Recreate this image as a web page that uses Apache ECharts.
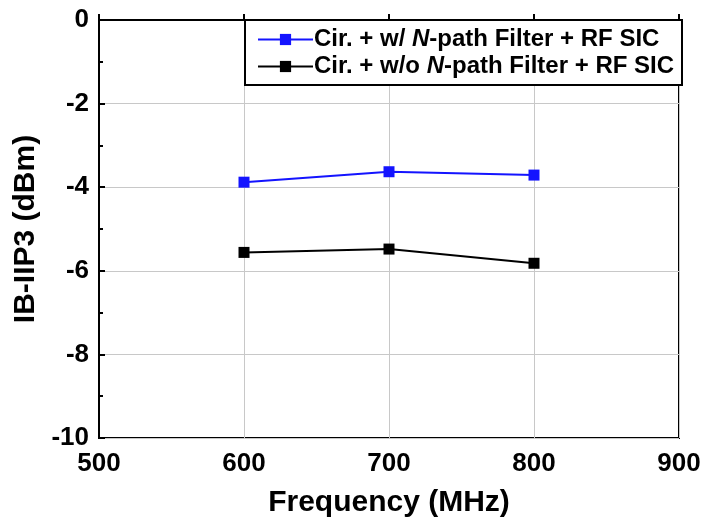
<!DOCTYPE html>
<html>
<head>
<meta charset="utf-8">
<script src="https://cdn.jsdelivr.net/npm/echarts@6/dist/echarts.min.js"></script>
<style>
  html, body { margin: 0; padding: 0; background: #fff; }
  #chart { width: 705px; height: 523px; }
</style>
</head>
<body>
<div id="chart"></div>
<script>
    // values
    var freqs = [600, 700, 800];
    var withFilter = [-3.88, -3.63, -3.71];
    var withoutFilter = [-5.56, -5.48, -5.82];
    var seriesNames = ['Cir. + w/ N-path Filter + RF SIC', 'Cir. + w/o N-path Filter + RF SIC'];

    var font = 'Liberation Sans, Arial, sans-serif';

    function pairs(ys) {
        var out = [];
        for (var i = 0; i < freqs.length; i++) {
            out.push([freqs[i], ys[i]]);
        }
        return out;
    }

    var chart = echarts.init(document.getElementById('chart'));

    var option = {
        animation: false,
        backgroundColor: '#fff',
        grid: {
            left: 99, right: 26, top: 20, bottom: 85,
            show: true, borderColor: '#000', borderWidth: 2
        },
        graphic: [{
            type: 'rect', z: 90,
            shape: { x: 245, y: 20, width: 437, height: 65 },
            style: { fill: '#fff', stroke: '#000', lineWidth: 2 }
        }],
        legend: {
            z: 100,
            orient: 'vertical',
            left: 257, top: 26,
            padding: 0,
            itemGap: 0,
            itemWidth: 55,
            itemHeight: 14,
            data: seriesNames,
            formatter: function (name) {
                return name.replace('N-path', '{i|N}-path');
            },
            textStyle: {
                fontFamily: font, fontWeight: 'bold', fontSize: 24,
                color: '#000', lineHeight: 27, padding: [0, 0, 0, -4],
                rich: {
                    i: { fontFamily: font, fontWeight: 'bold', fontStyle: 'italic', fontSize: 24, color: '#000' }
                }
            }
        },
        xAxis: {
            type: 'value', min: 500, max: 900, interval: 100,
            name: 'Frequency (MHz)', nameLocation: 'middle', nameGap: 50,
            nameTextStyle: { fontFamily: font, fontWeight: 'bold', fontSize: 30, color: '#000' },
            axisLine: { show: true, lineStyle: { color: '#000', width: 2 } },
            axisTick: { show: true, inside: true, length: 6, lineStyle: { color: '#000', width: 2 } },
            axisLabel: { fontFamily: font, fontWeight: 'bold', fontSize: 26, color: '#000', margin: 13 },
            splitLine: { show: true, lineStyle: { color: '#c8c8c8', width: 1 } }
        },
        yAxis: {
            type: 'value', min: -10, max: 0, interval: 2,
            name: 'IB-IIP3 (dBm)', nameLocation: 'middle', nameGap: 50,
            nameTextStyle: { fontFamily: font, fontWeight: 'bold', fontSize: 30, color: '#000' },
            axisLine: { show: true, lineStyle: { color: '#000', width: 2 } },
            axisTick: { show: true, inside: true, length: 6, lineStyle: { color: '#000', width: 2 } },
            minorTick: { show: true, splitNumber: 2, length: 4, lineStyle: { color: '#000', width: 2 } },
            axisLabel: { fontFamily: font, fontWeight: 'bold', fontSize: 26, color: '#000', margin: 10 },
            splitLine: { show: true, lineStyle: { color: '#c8c8c8', width: 1 } }
        },
        series: [{
            name: seriesNames[0],
            type: 'line',
            data: pairs(withFilter),
            symbol: 'rect', symbolSize: 11,
            itemStyle: { color: '#1414ff' },
            lineStyle: { color: '#1414ff', width: 2 }
        }, {
            name: seriesNames[1],
            type: 'line',
            data: pairs(withoutFilter),
            symbol: 'rect', symbolSize: 11,
            itemStyle: { color: '#000' },
            lineStyle: { color: '#000', width: 2 }
        }]
    };

    chart.setOption(option);
</script>
</body>
</html>
